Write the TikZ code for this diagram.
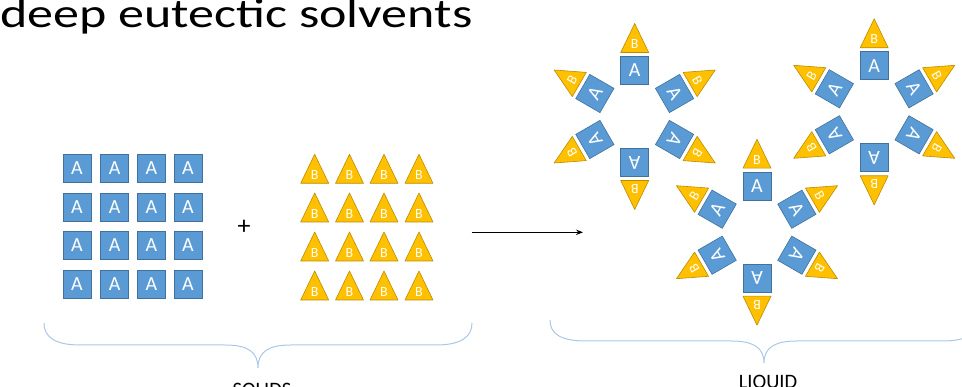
\documentclass[tikz,border=0pt]{standalone}
\usepackage{fontspec}
\setmainfont{Carlito}
\usetikzlibrary{arrows.meta}
\definecolor{ablue}{HTML}{5B9BD5}
\definecolor{ablueD}{HTML}{41719C}
\definecolor{byel}{HTML}{FFC000}
\definecolor{byelD}{HTML}{BC8C00}
\definecolor{bracecol}{HTML}{A9C8E8}
\tikzset{
  asq/.style={draw=ablueD, line width=0.6pt, fill=ablue, text=white,
    minimum size=28pt, inner sep=0pt, font=\fontsize{20}{20}\selectfont, transform shape},
  btxt/.style={text=white, font=\fontsize{14}{14}\selectfont, inner sep=0pt, transform shape},
  btri/.style={draw=byelD, line width=0.6pt, fill=byel, line join=round},
  bracestyle/.style={draw=bracecol, line width=1pt},
  lbl/.style={anchor=base, inner sep=0pt, font=\fontsize{20.5}{20.5}\selectfont},
  pics/bt/.style={code={
    \path[btri] (-14,0) -- (14,0) -- (0,29) -- cycle;
    \node[btxt] (-lbl) at (0,8.3) {B};
  }},
}
\begin{document}
\begin{tikzpicture}[x=1pt,y=1pt]
\useasboundingbox (0,0) rectangle (962,-387);
% title
\node[anchor=base west, inner sep=0pt] (title) at (0,-27.5)
  {\scalebox{1.269}[1]{\fontsize{41}{41}\selectfont deep eutectic solvents}};
% grid of A squares
\foreach \c [count=\i] in {77,114.7,151.3,188}
  \foreach \r [count=\j] in {168.5,207,245.5,284.5}
    \node[asq] (ga\i\j) at (\c,-\r) {A};
% grid of B triangles
\foreach \c [count=\i] in {314.7,349.5,384,419}
  \foreach \r [count=\j] in {183.3,222,261,300}
    \pic (gb\i\j) at (\c,-\r) {bt};
% plus
\node[inner sep=0pt, font=\fontsize{26}{26}\selectfont] (plus) at (244,-227.3) {+};
% arrow
\coordinate (arS) at (471.7,-232.3);
\coordinate (arE) at (583,-232.3);
\draw[-{Stealth[length=7pt,width=5.5pt]}, line width=1.3pt] (arS) -- (arE);
% rings
\foreach \cx/\cy/\rn in {634.7/116.5/1, 757/232.2/2, 874.2/111.8/3} {
  \foreach \ang [count=\i] in {90,30,-30,-90,-150,150} {
    \begin{scope}[shift={(\cx,-\cy)}, rotate=\ang-90]
      \node[asq] (r\rn a\i) at (0,46) {A};
      \pic[transform shape] (r\rn b\i) at (0,64) {bt};
    \end{scope}
  }
}
% braces
\draw[bracestyle] (44,-323) .. controls (44,-337) and (55,-345) .. (80,-345) -- (225,-345)
  .. controls (248,-345) and (258,-352) .. (258,-368)
  .. controls (258,-352) and (268,-345) .. (291,-345) -- (436,-345)
  .. controls (461,-345) and (472,-337) .. (472,-323);
\draw[bracestyle] (550,-320) .. controls (550,-334) and (561,-341) .. (586,-341) -- (731,-341)
  .. controls (754,-341) and (764,-348) .. (764,-363)
  .. controls (764,-348) and (774,-341) .. (797,-341) -- (942,-341)
  .. controls (967,-341) and (978,-334) .. (978,-320);
% labels
\node[lbl] (solids) at (262,-397) {SOLIDS};
\node[lbl] (liquid) at (768,-389) {LIQUID};
\end{tikzpicture}
\end{document}
